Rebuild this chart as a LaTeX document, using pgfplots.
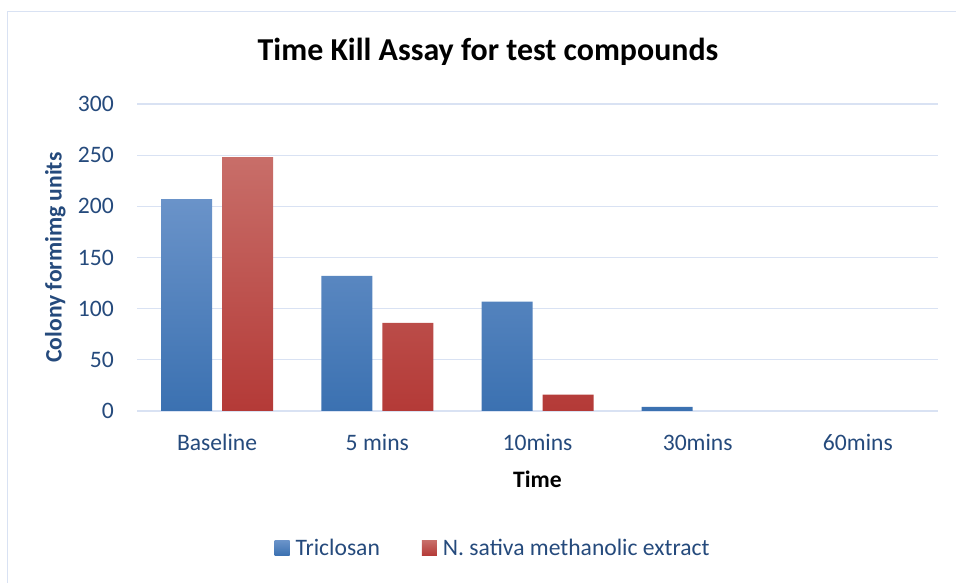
\documentclass[border=0pt]{standalone}
\usepackage{fontspec}
\setmainfont{Carlito}
\usepackage{pgfplots}
\pgfplotsset{compat=1.18}
\definecolor{navy}{HTML}{254A7C}
\definecolor{gridc}{HTML}{D9E2F3}
\definecolor{bluetop}{HTML}{6A93C9}
\definecolor{bluemid}{HTML}{4F86C6}
\definecolor{bluebot}{HTML}{3B71B1}
\definecolor{redtop}{HTML}{C86E69}
\definecolor{redmid}{HTML}{C74B47}
\definecolor{redbot}{HTML}{B43A37}
\begin{document}
\begin{tikzpicture}
\useasboundingbox (0,0) rectangle (956bp,583bp);
\draw[gridc, line width=1.3bp] (7.7bp,0) -- (7.7bp,571.3bp) -- (956bp,571.3bp);
\node[anchor=base, font=\fontsize{31.9bp}{38bp}\selectfont\bfseries] at (488bp,522bp) {Time Kill Assay for test compounds};
\begin{axis}[
  at={(137bp,172bp)}, anchor=south west,
  scale only axis, width=801bp, height=307bp,
  xmin=-0.5, xmax=4.5, ymin=0, ymax=300,
  ybar=10bp, bar width=51bp,
  xtick={0,...,4}, xticklabels={Baseline,5 mins,10mins,30mins,60mins},
  ytick={0,50,...,300},
  axis line style={draw=none},
  major tick length=0,
  ymajorgrids, grid style={gridc, line width=1.3bp},
  tick label style={font=\fontsize{23.6bp}{28bp}\selectfont, text=navy},
  /pgf/number format/assume math mode=true,
  yticklabel style={anchor=east, inner sep=0pt, xshift=-23bp},
  xticklabel style={anchor=base, inner sep=0pt, yshift=-39bp},
  xlabel={Time}, ylabel={Colony formimg units},
  xlabel style={at={(axis description cs:0.5,-0.2508)}, anchor=base, font=\fontsize{23.6bp}{28bp}\selectfont\bfseries, text=black},
  ylabel style={at={(axis description cs:-0.0941,0.5)}, anchor=base, font=\fontsize{23.6bp}{28bp}\selectfont\bfseries, text=navy},
  legend columns=2,
  legend style={at={(axis description cs:0.4432,-0.4463)}, anchor=center, draw=none, fill=none,
    font=\fontsize{23.6bp}{28bp}\selectfont, text=navy,
    nodes={inner sep=0pt},
    /tikz/every odd column/.append style={column sep=6bp},
    /tikz/every even column/.append style={column sep=42bp}},
  legend image code/.code={\path[#1, draw=none] (0bp,-7.5bp) rectangle (15bp,7.5bp);},
]
\addplot[draw=none, top color=bluetop, middle color=bluemid, bottom color=bluebot] coordinates {(0,207) (1,132) (2,107) (3,4) (4,0)};
\addplot[draw=none, top color=redtop, middle color=redmid, bottom color=redbot] coordinates {(0,248) (1,86) (2,16) (3,0) (4,0)};
\legend{Triclosan, N. sativa methanolic extract}
\end{axis}
\end{tikzpicture}
\end{document}
